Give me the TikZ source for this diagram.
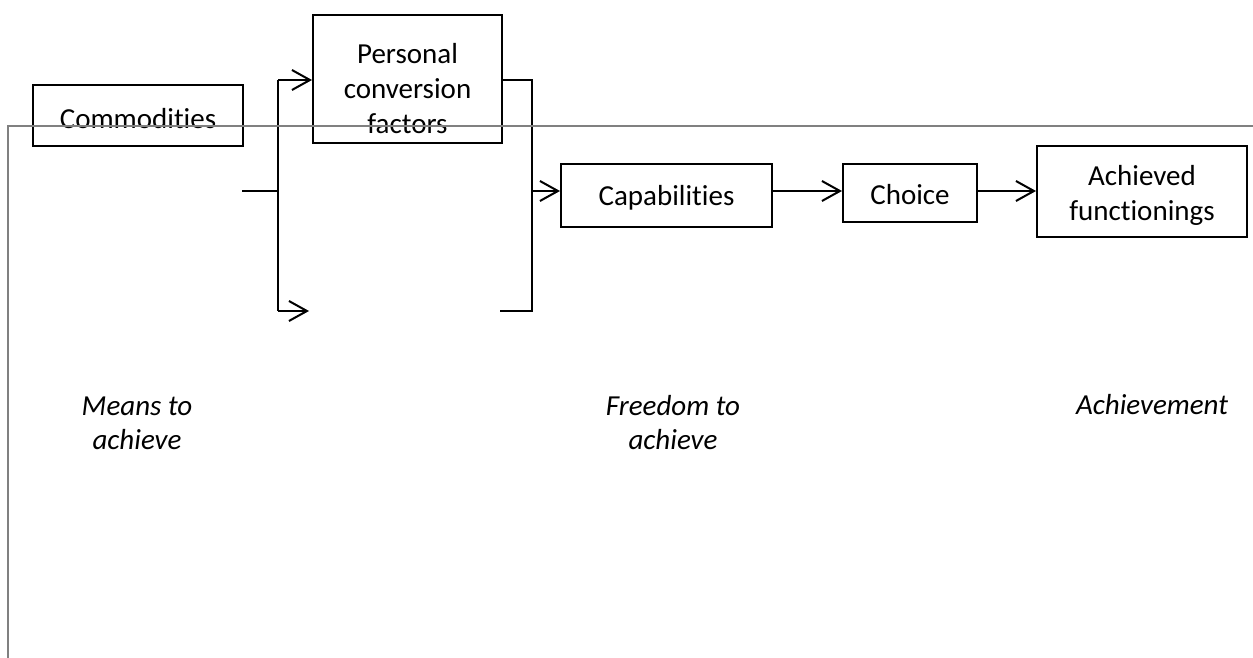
\documentclass[tikz,border=0pt]{standalone}
\usepackage{fontspec}
\setmainfont{Carlito}[Ligatures=NoCommon]
\usetikzlibrary{arrows.meta}

\begin{document}
\begin{tikzpicture}[x=0.5pt,y=-0.5pt,
  box/.style={draw,line width=1pt,inner sep=0pt},
  txt/.style={align=center,inner sep=0pt,font=\fontsize{14.5pt}{17.5pt}\selectfont},
  arr/.style={line width=1pt,-{Straight Barb[length=9pt,width=10pt]}},
  lnk/.style={line width=1pt},
  lbl/.style={align=center,font=\fontsize{14.5pt}{17pt}\selectfont\itshape}]
\useasboundingbox (0,0) rectangle (1253,658);
% boxes
\node[box,minimum width=105pt,minimum height=30.5pt,
  label={[txt,yshift=-1.5pt]center:Commodities}] (comm) at (138,115.5) {};
\node[box,minimum width=94.5pt,minimum height=64pt,
  label={[txt,yshift=-5pt]center:Personal\\conversion\\factors}] (pcf) at (407.5,79) {};
\node[box,minimum width=105.5pt,minimum height=31.5pt,
  label={[txt,yshift=-1pt]center:Capabilities}] (cap) at (666.5,195.5) {};
\node[box,minimum width=67pt,minimum height=29pt,
  label={[txt,yshift=-1pt]center:Choice}] (cho) at (910,193) {};
\node[box,minimum width=105pt,minimum height=45.5pt,
  label={[txt,yshift=-2pt]center:Achieved\\functionings}] (ach) at (1142,191.5) {};
% bracket points
\coordinate (stub) at (242,191);
\coordinate (fork) at (278,191);
\coordinate (forktop) at (278,80);
\coordinate (forkbot) at (278,311);
\coordinate (lower) at (309,311);
\coordinate (join) at (532,191);
\coordinate (jointop) at (532,80);
\coordinate (joinbot) at (532,311);
\coordinate (lowerend) at (500,311);
% connectors
\draw[lnk] (stub) -- (fork);
\draw[lnk] (forktop) -- (forkbot);
\draw[arr] (forktop) -- (pcf.west |- forktop);
\draw[arr] (forkbot) -- (lower);
\draw[lnk] (pcf.east |- jointop) -- (jointop) -- (joinbot) -- (lowerend);
\draw[arr] (join) -- (cap.west |- join);
\draw[arr] (cap.east |- join) -- (cho.west |- join);
\draw[arr] (cho.east |- join) -- (ach.west |- join);
% frame
\draw[black!50,line width=0.6pt] (8,658) -- (8,126) -- (1253,126);
% labels
\node[lbl] (means) at (137,423) {Means to\\achieve};
\node[lbl] (freedom) at (673,423) {Freedom to\\achieve};
\node[lbl,anchor=base] (achv) at (1152,414) {Achievement};
\end{tikzpicture}
\end{document}
